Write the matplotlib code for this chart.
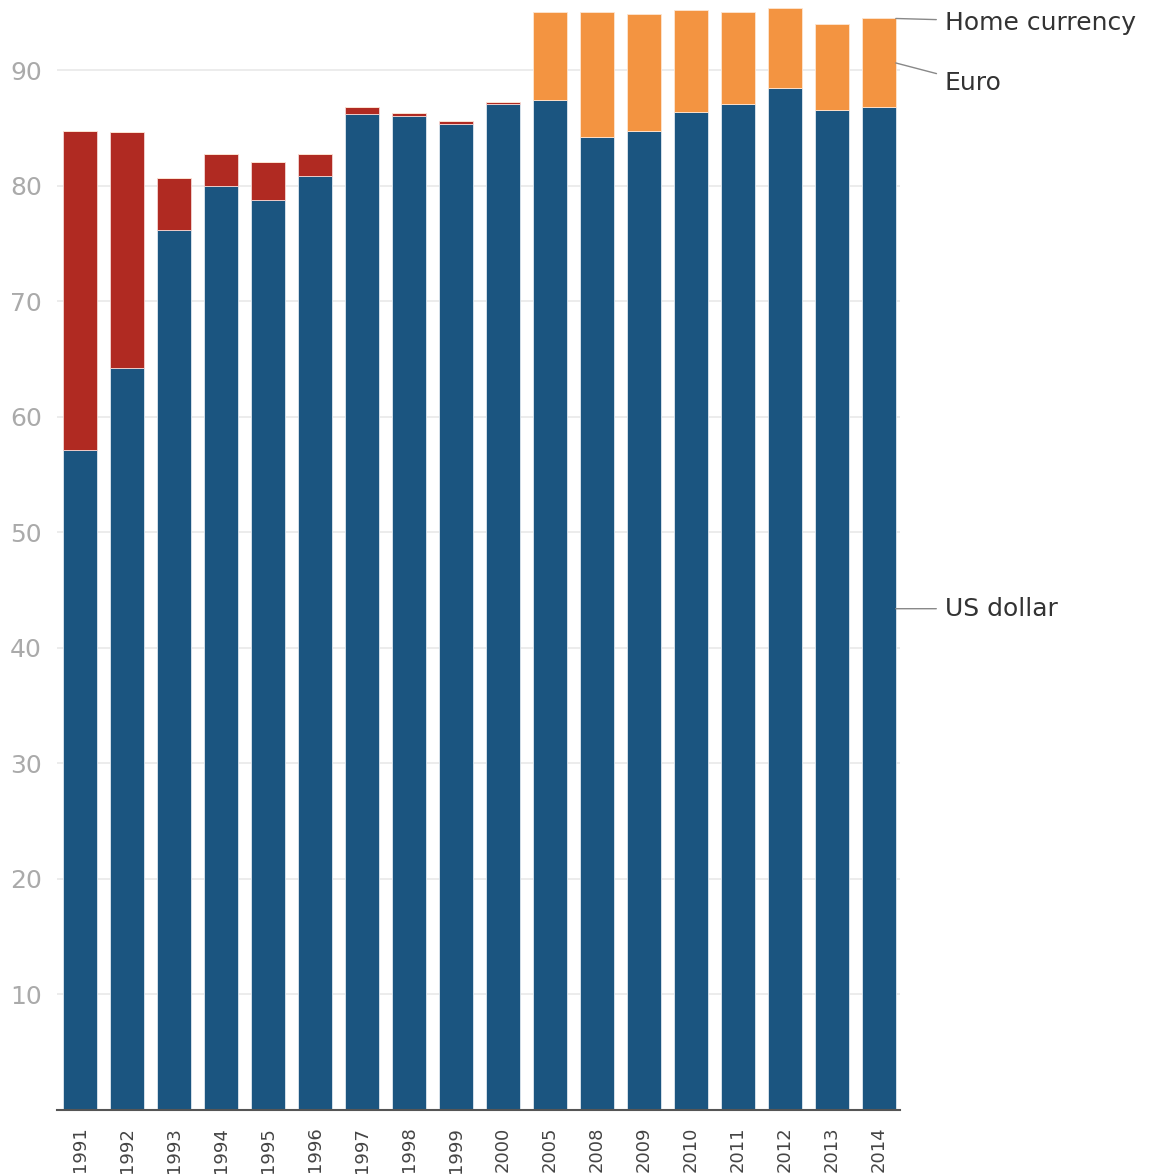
import matplotlib.pyplot as plt
import numpy as np

years = ["1991", "1992", "1993", "1994", "1995", "1996", "1997", "1998", "1999",
         "2000", "2005", "2008", "2009", "2010", "2011", "2012", "2013", "2014"]
us_dollar = [57.1, 64.2, 76.2, 80.0, 78.8, 80.9, 86.2, 86.1, 85.4,
             87.1, 87.4, 84.2, 84.8, 86.4, 87.1, 88.5, 86.6, 86.8]
home_currency = [27.7, 20.5, 4.5, 2.8, 3.3, 1.9, 0.6, 0.2, 0.2,
                 0.2, 0, 0, 0, 0, 0, 0, 0, 0]
euro = [0, 0, 0, 0, 0, 0, 0, 0, 0,
        0, 7.7, 10.9, 10.1, 8.8, 8.0, 6.9, 7.4, 7.7]

blue = "#1b5580"
red = "#b02a22"
orange = "#f39441"

fig = plt.figure(figsize=(11.53, 11.76), dpi=100)
ax = fig.add_axes([57 / 1153, 1 - 1110 / 1176, (900 - 57) / 1153, 1110 / 1176])

x = np.arange(len(years))
w = 0.72
usd = np.array(us_dollar)
home = np.array(home_currency)
eur = np.array(euro)

ax.bar(x, usd, w, color=blue, edgecolor="#dfe8f0", linewidth=0.6, zorder=3)
ax.bar(x, home, w, bottom=usd, color=red, edgecolor="#f3d6d4", linewidth=0.6, zorder=3)
ax.bar(x, eur, w, bottom=usd + home, color=orange, edgecolor="#fde6d2", linewidth=0.6, zorder=3)

ax.set_xlim(-0.49, len(years) - 1 + 0.45)
ax.set_ylim(0, 96.1)
ax.set_yticks(range(10, 100, 10))
ax.set_xticks(x)
ax.set_xticklabels(years, rotation=90, fontsize=13, color="#444444")
ax.tick_params(axis="y", length=0, labelsize=18, labelcolor="#aaaaaa", pad=11)
ax.tick_params(axis="x", length=0, pad=12)
ax.grid(axis="y", color="#e9e9e9", linewidth=1.2, zorder=0)
for s in ["top", "right", "left"]:
    ax.spines[s].set_visible(False)
ax.spines["bottom"].set_color("#555555")
ax.spines["bottom"].set_linewidth(1.5)
ax.spines["bottom"].set_zorder(4)

# leader labels at the last bar
last = len(years) - 1
xr = last + w / 2
tx = last + 1.4
top = usd[last] + home[last] + eur[last]
labels = [
    ("Home currency", top, top - 0.35),
    ("Euro", usd[last] + eur[last] / 2, 88.9),
    ("US dollar", usd[last] / 2, usd[last] / 2),
]
for txt, y0, y1 in labels:
    ax.annotate(txt, xy=(xr, y0), xytext=(tx, y1), textcoords="data",
                fontsize=18, color="#333333", va="center", ha="left",
                annotation_clip=False,
                arrowprops=dict(arrowstyle="-", color="#888888", lw=1,
                                shrinkA=4, shrinkB=0))

fig.savefig("out.png", dpi=100)
